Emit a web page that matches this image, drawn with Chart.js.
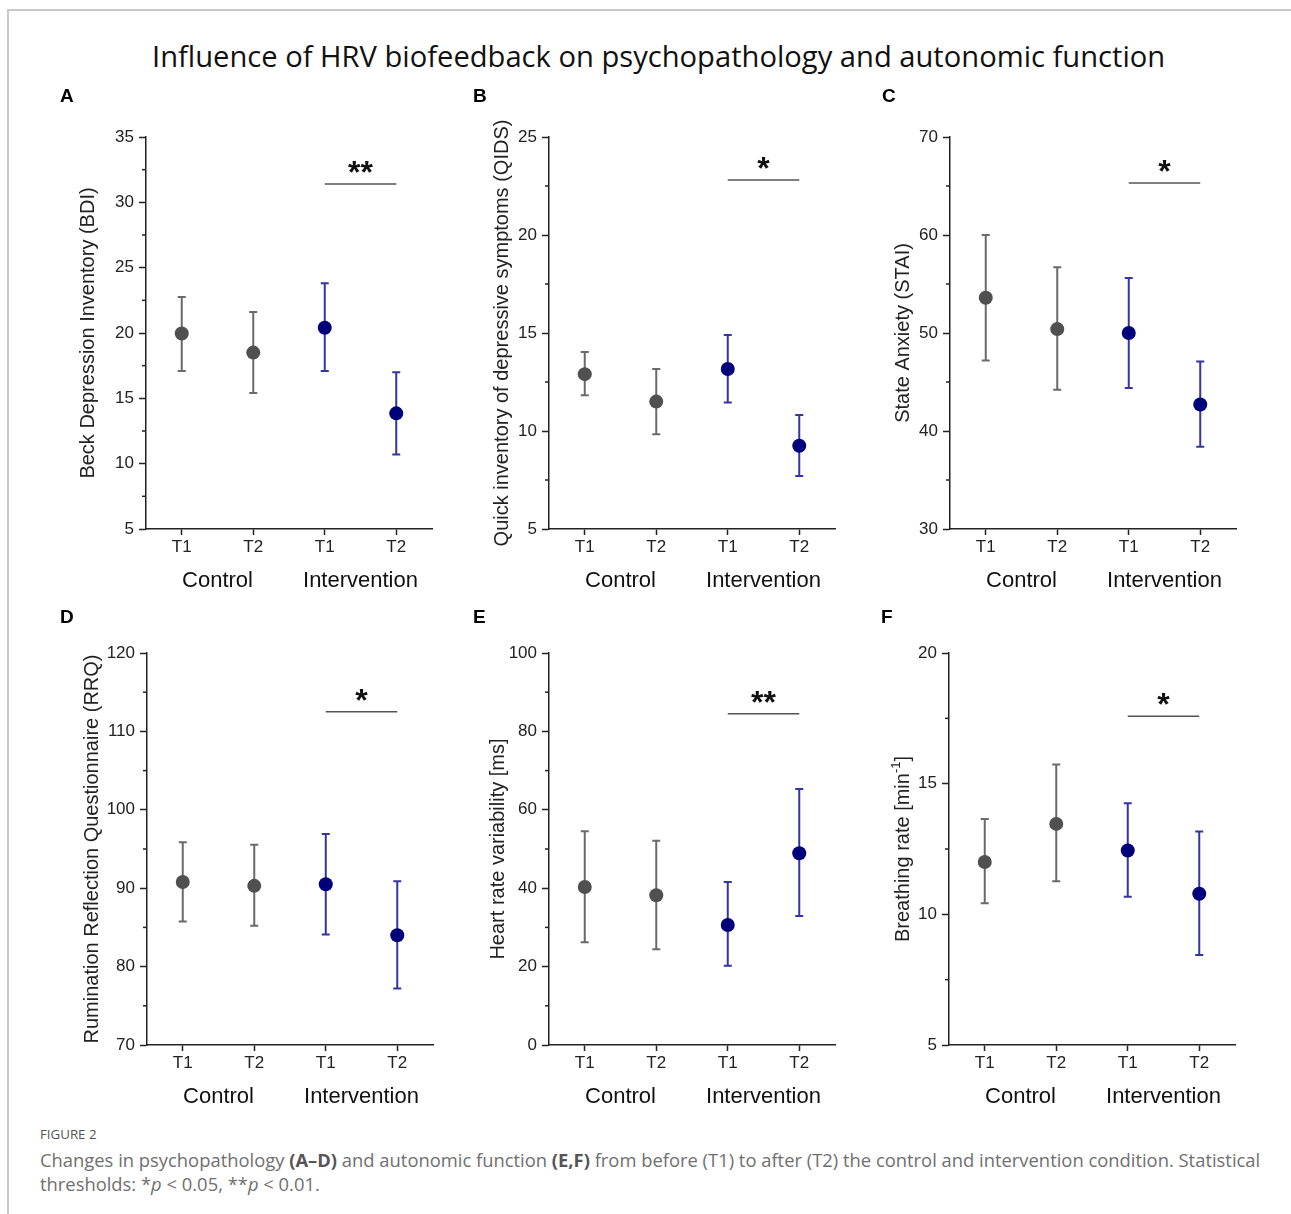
<!DOCTYPE html>
<html>
<head>
<meta charset="utf-8">
<script src="https://cdn.jsdelivr.net/npm/chart.js@4.4.0/dist/chart.umd.min.js"></script>
<style>
body{margin:0;background:#fff;width:1291px;height:1214px;position:relative;overflow:hidden;font-family:'Liberation Sans',Arial,sans-serif}
.frame-top{position:absolute;left:7px;top:9px;right:0;height:2px;background:#c8c8c8}
.frame-left{position:absolute;left:7px;top:9px;bottom:0;width:2px;background:#c8c8c8}
#title{position:absolute;left:152px;top:36px;line-height:40px;white-space:nowrap;font-family:'Open Sans',sans-serif;font-size:29px;color:#111;transform-origin:left center}
.letter{position:absolute;font-weight:bold;font-size:19px;line-height:22px;color:#000}
canvas{position:absolute}
.cap{position:absolute;left:40px;white-space:nowrap;font-family:'Open Sans',sans-serif;color:#707070;transform-origin:left center}
.cap b{color:#555}
</style>
</head>
<body>
<div class="frame-top"></div>
<div class="frame-left"></div>
<div id="title">Influence of HRV biofeedback on psychopathology and autonomic function</div>

<canvas id="cA" width="376" height="494" style="left:66px;top:105px"></canvas>
<canvas id="cB" width="376" height="494" style="left:469px;top:105px"></canvas>
<canvas id="cC" width="376" height="494" style="left:870px;top:105px"></canvas>
<canvas id="cD" width="376" height="494" style="left:67px;top:621px"></canvas>
<canvas id="cE" width="376" height="494" style="left:469px;top:621px"></canvas>
<canvas id="cF" width="376" height="494" style="left:869px;top:621px"></canvas>

<div class="letter" style="left:60px;top:85px">A</div>
<div class="letter" style="left:473px;top:85px">B</div>
<div class="letter" style="left:882px;top:85px">C</div>
<div class="letter" style="left:60px;top:606px">D</div>
<div class="letter" style="left:473px;top:606px">E</div>
<div class="letter" style="left:881px;top:606px">F</div>

<div class="cap" id="fig" style="top:1126px;font-size:13px;line-height:16px;color:#555">FIGURE 2</div>
<div class="cap" id="cap1" style="top:1148px;font-size:18px;line-height:24px">Changes in psychopathology <b>(A–D)</b> and autonomic function <b>(E,F)</b> from before (T1) to after (T2) the control and intervention condition. Statistical</div>
<div class="cap" id="cap2" style="top:1172px;font-size:18px;line-height:24px">thresholds: *<i>p</i> &lt; 0.05, **<i>p</i> &lt; 0.01.</div>

<script>
// categories
var timeLabels = ['T1', 'T2', 'T1', 'T2'];
var groups = ['Control', 'Intervention'];

// mean and error bar ends
var bdiMean = [19.96, 18.5, 20.4, 13.85];
var bdiLow  = [17.1, 15.4, 17.1, 10.7];
var bdiHigh = [22.76, 21.6, 23.8, 17.0];

var qidsMean = [12.9, 11.5, 13.16, 9.25];
var qidsLow  = [11.82, 9.83, 11.46, 7.7];
var qidsHigh = [14.03, 13.16, 14.9, 10.82];

var staiMean = [53.6, 50.4, 50.0, 42.7];
var staiLow  = [47.2, 44.2, 44.4, 38.4];
var staiHigh = [60.0, 56.7, 55.6, 47.1];

var rrqMean = [90.8, 90.3, 90.5, 84.0];
var rrqLow  = [85.75, 85.2, 84.1, 77.2];
var rrqHigh = [95.85, 95.55, 96.9, 90.9];

var hrvMean = [40.3, 38.2, 30.6, 48.9];
var hrvLow  = [26.2, 24.4, 20.2, 32.9];
var hrvHigh = [54.5, 52.1, 41.6, 65.3];

var brMean = [12.0, 13.46, 12.44, 10.79];
var brLow  = [10.42, 11.27, 10.67, 8.44];
var brHigh = [13.65, 15.73, 14.25, 13.17];

// significance bars (height in data units) and marks
var sigLevels = [31.4, 22.8, 65.3, 112.5, 84.5, 17.58];
var sigMarks = ['**', '*', '*', '*', '**', '*'];

var markerColors = ['#505050', '#505050', '#00007a', '#00007a'];
var barColors = ['#6a6a6a', '#6a6a6a', '#3535a0', '#3535a0'];

var panels = [
	{ id: 'cA', mean: bdiMean, low: bdiLow, high: bdiHigh, min: 5, max: 35, major: 5, title: ['Beck Depression Inventory (BDI)'], titleOff: 58 },
	{ id: 'cB', mean: qidsMean, low: qidsLow, high: qidsHigh, min: 5, max: 25, major: 5, title: ['Quick inventory of depressive symptoms (QIDS)'], titleOff: 47 },
	{ id: 'cC', mean: staiMean, low: staiLow, high: staiHigh, min: 30, max: 70, major: 10, title: ['State Anxiety (STAI)'], titleOff: 47 },
	{ id: 'cD', mean: rrqMean, low: rrqLow, high: rrqHigh, min: 70, max: 120, major: 10, title: ['Rumination Reflection Questionnaire (RRQ)'], titleOff: 55 },
	{ id: 'cE', mean: hrvMean, low: hrvLow, high: hrvHigh, min: 0, max: 100, major: 20, title: ['Heart rate variability [ms]'], titleOff: 51 },
	{ id: 'cF', mean: brMean, low: brLow, high: brHigh, min: 5, max: 20, major: 5, title: ['Breathing rate [min', '-1', ']'], titleOff: 46 }
];

Chart.defaults.font.family = "'Liberation Sans', Arial, sans-serif";
Chart.defaults.color = '#222';

var panelExtras = {
	id: 'panelExtras',
	beforeDatasetsDraw: function(chart) {
		var p = chart.options.plugins.panelExtras;
		var ctx = chart.ctx, x = chart.scales.x, y = chart.scales.y;
		var area = chart.chartArea;
		ctx.save();

		// minor ticks halfway between the labelled ones
		ctx.strokeStyle = '#222';
		ctx.lineWidth = 1.5;
		var minor = p.major / 2;
		for (var v = p.min + minor; v < p.max; v += p.major) {
			var py = y.getPixelForValue(v);
			ctx.beginPath();
			ctx.moveTo(area.left - 4, py);
			ctx.lineTo(area.left, py);
			ctx.stroke();
		}

		// error bars
		ctx.lineWidth = 2;
		for (var i = 0; i < p.low.length; i++) {
			var px = x.getPixelForValue(i);
			var yl = y.getPixelForValue(p.low[i]);
			var yh = y.getPixelForValue(p.high[i]);
			ctx.strokeStyle = barColors[i];
			ctx.beginPath();
			ctx.moveTo(px, yl); ctx.lineTo(px, yh);
			ctx.moveTo(px - 4, yl); ctx.lineTo(px + 4, yl);
			ctx.moveTo(px - 4, yh); ctx.lineTo(px + 4, yh);
			ctx.stroke();
		}

		// significance bar between intervention T1 and T2
		var sy = y.getPixelForValue(p.sigAt);
		var x1 = x.getPixelForValue(2), x2 = x.getPixelForValue(3);
		ctx.strokeStyle = '#555';
		ctx.lineWidth = 1.5;
		ctx.beginPath();
		ctx.moveTo(x1, sy); ctx.lineTo(x2, sy);
		ctx.stroke();
		ctx.fillStyle = '#111';
		ctx.font = "bold 32px 'Liberation Sans', Arial, sans-serif";
		ctx.textAlign = 'center';
		ctx.textBaseline = 'middle';
		ctx.fillText(p.sigMark, (x1 + x2) / 2, sy - 10);
		ctx.restore();
	},
	afterDraw: function(chart) {
		var p = chart.options.plugins.panelExtras;
		var ctx = chart.ctx, x = chart.scales.x;
		var area = chart.chartArea;
		ctx.save();
		ctx.fillStyle = '#111';
		ctx.textAlign = 'center';
		ctx.textBaseline = 'middle';
		ctx.font = "22px 'Liberation Sans', Arial, sans-serif";
		groups.forEach(function(g, k) {
			var cx = (x.getPixelForValue(2 * k) + x.getPixelForValue(2 * k + 1)) / 2;
			ctx.fillText(g, cx, area.bottom + 52);
		});

		// rotated y title, odd parts are superscript
		var big = "20px 'Liberation Sans', Arial, sans-serif";
		var small = "13px 'Liberation Sans', Arial, sans-serif";
		ctx.translate(area.left - p.titleOff, (area.top + area.bottom) / 2);
		ctx.rotate(-Math.PI / 2);
		var total = 0;
		p.title.forEach(function(t, j) {
			ctx.font = j % 2 ? small : big;
			total += ctx.measureText(t).width;
		});
		var cur = -total / 2;
		ctx.textAlign = 'left';
		ctx.fillStyle = '#222';
		p.title.forEach(function(t, j) {
			ctx.font = j % 2 ? small : big;
			ctx.fillText(t, cur, j % 2 ? -7 : 0);
			cur += ctx.measureText(t).width;
		});
		ctx.restore();
	}
};

panels.forEach(function(p, n) {
	new Chart(document.getElementById(p.id), {
		type: 'line',
		data: {
			labels: timeLabels,
			datasets: [{
				data: p.mean,
				showLine: false,
				pointRadius: 7,
				pointBorderWidth: 0,
				pointBackgroundColor: markerColors,
				pointBorderColor: markerColors
			}]
		},
		plugins: [panelExtras],
		options: {
			responsive: false,
			animation: false,
			events: [],
			layout: { padding: { left: 0, top: 32, right: 10, bottom: 0 } },
			plugins: {
				legend: { display: false },
				tooltip: { enabled: false },
				panelExtras: {
					low: p.low, high: p.high, min: p.min, max: p.max, major: p.major,
					title: p.title, titleOff: p.titleOff,
					sigAt: sigLevels[n], sigMark: sigMarks[n]
				}
			},
			scales: {
				x: {
					type: 'category',
					offset: true,
					grid: { offset: false, drawOnChartArea: false, tickLength: 6, tickColor: '#222', tickWidth: 1.5 },
					border: { color: '#222', width: 1.5 },
					ticks: { font: { size: 17 }, color: '#222', padding: 2, maxRotation: 0, autoSkip: false },
					afterFit: function(s) { s.height = 70; }
				},
				y: {
					min: p.min,
					max: p.max,
					grid: { drawOnChartArea: false, tickLength: 7, tickColor: '#222', tickWidth: 1.5 },
					border: { color: '#222', width: 1.5 },
					ticks: { stepSize: p.major, font: { size: 17 }, color: '#222', padding: 5 },
					afterFit: function(s) { s.width = 80; }
				}
			}
		}
	});
});

// squeeze the header and caption text to the figure's widths
var title = document.getElementById('title');
title.style.transform = 'scaleX(' + (1013 / title.offsetWidth) + ')';
var cap1 = document.getElementById('cap1');
var k = 1220 / cap1.offsetWidth;
['fig', 'cap1', 'cap2'].forEach(function(id) {
	document.getElementById(id).style.transform = 'scaleX(' + k + ')';
});
</script>
</body>
</html>
